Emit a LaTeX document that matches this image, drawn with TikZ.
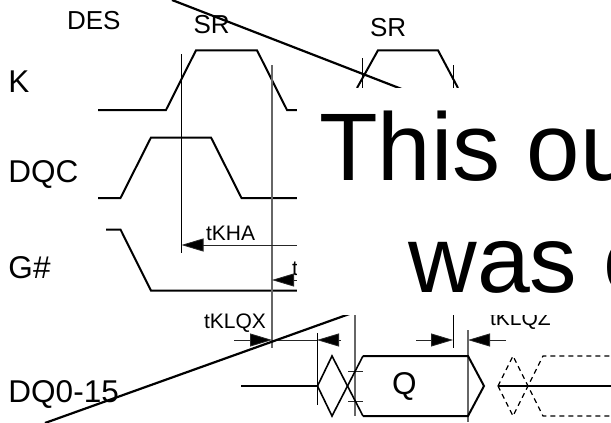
\documentclass[tikz,border=0pt]{standalone}
\usepackage{fontspec}
\setmainfont{Liberation Sans}
\usetikzlibrary{arrows.meta}
\newcommand{\fsz}[1]{\fontsize{#1}{#1}\selectfont}
\tikzset{
  x=1pt,y=-1pt,
  sig/.style={line width=2pt,line join=miter},
  thinsig/.style={line width=1.6pt,line join=miter},
  thin line/.style={line width=1pt,black},
  gray line/.style={line width=1.2pt,black!60},
  diag/.style={line width=2.2pt},
  dash sig/.style={line width=1.3pt,dash pattern=on 5pt off 4pt},
  dim/.style={line width=0.8pt,black!85},
  head/.style={-{Triangle[length=22pt,width=13pt,fill=black]}},
  lab/.style={anchor=base west,inner sep=0pt,outer sep=0pt},
  name30/.style={lab,font=\fsz{31.5}},
  name25/.style={lab,font=\fsz{26}},
  name21/.style={lab,font=\fsz{21}},
  big/.style={lab,font=\fsz{96}},
  bigb/.style={lab,font=\fsz{95}},
}
\begin{document}
\begin{tikzpicture}
\useasboundingbox (0,0) rectangle (611,423);
\clip (0,0) rectangle (611,423);
% signals
\draw[sig] (98,110)--(166,110)--(196,50.3)--(257,50.3)--(287,110)--(297,110);
\draw[sig] (357,88)--(378,50.3)--(438,50.3)--(458,88);
\draw[sig] (98,198)--(120.5,198)--(151,137.5)--(211,137.5)--(241.5,198)--(297,198);
\draw[sig] (106,229.5)--(120.5,229.5)--(151,290.7)--(297,290.7);
% guides
\coordinate (g1t) at (181.5,54); \coordinate (g1b) at (181.5,253);
\coordinate (g2t) at (272,65); \coordinate (g2b) at (272,348);
\draw[thin line] (g1t)--(g1b);
\draw[gray line] (g2t)--(g2b);
\draw[thin line] (362.7,58)--(362.7,88);
\draw[thin line] (453,65)--(453,88);
% timing arrows
\coordinate (ka) at (181.5,245); \coordinate (kb) at (297,245);
\draw[dim,head] (kb)--(ka);
\coordinate (ta) at (272,280); \coordinate (tb) at (297,280);
\draw[dim,head] (tb)--(ta);
\draw[dim,head] (234,340)--(272,340);
\draw[dim] (272,340)--(317,340);
\draw[dim,head] (341,340)--(317,340);
\draw[dim,head] (416,340)--(453,340);
\draw[dim,head] (506,340)--(468,340);
\draw[thin line] (317,333)--(317,405);
\draw[gray line] (355,315)--(355,416);
\draw[thin line] (453,315)--(453,348);
\draw[gray line] (468,330)--(468,422);
\draw[dim] (348,371)--(363,371) (348,401)--(363,401);
% data
\draw[sig] (241,386)--(317,386);
\draw[thinsig] (317.5,386)--(332,356)--(363,416);
\draw[thinsig] (317.5,386)--(332,416)--(363,356);
\draw[sig] (363,356)--(468,356)--(484,386)--(468,416)--(363,416);
\draw[sig] (498,386)--(611,386);
\draw[dash sig] (498,386)--(513,356)--(543,416)--(611,416);
\draw[dash sig] (498,386)--(513,416)--(543,356)--(611,356);
% labels
\node[name25] (des) at (67,30) {DES};
\node[name25] (sra) at (193.5,33) {SR};
\node[name25] (srb) at (370,36) {SR};
\node[name30] (k) at (8.5,92) {K};
\node[name30] (dqc) at (8.5,182.7) {DQC};
\node[name30] (g) at (8.5,278) {G\#};
\node[name30] (dq) at (8.5,402) {DQ0-15};
\node[name21] (tkha) at (206,240) {tKHA};
\node[name21] (t) at (292,275) {t};
\node[name21] (tklqx) at (204,328) {tKLQX};
\node[name21] (tklqz) at (490,325) {tKLQZ};
\node[name30] (q) at (392,394.7) {Q};
% crossing strokes
\draw[diag] (172,0)--(430,100);
\draw[diag] (45,423)--(380,303);
% blank overlay and its text
\fill[white] (297,88) rectangle (611,315);
\node[big] (line1) at (319,180) {This ou};
\node[bigb] (line2) at (408.5,292) {was c};
\end{tikzpicture}
\end{document}
